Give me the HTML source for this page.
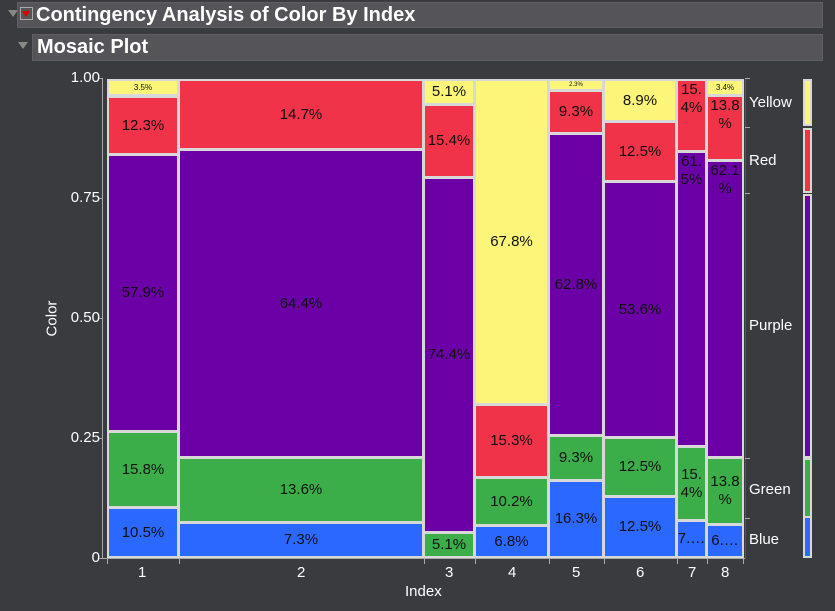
<!DOCTYPE html>
<html><head><meta charset="utf-8"><style>
body{margin:0;width:835px;height:611px;background:#393b3f;font-family:"Liberation Sans",sans-serif;position:relative;overflow:hidden}
div{position:absolute;box-sizing:border-box}
.h{background:#545459;color:#fff;font-weight:bold;border:1px solid #5f5f64}
.s{border:2px solid #d8d8d8;display:flex;align-items:center;justify-content:center;text-align:center;font-size:15px;color:#111;line-height:18px;overflow:hidden}
.B{background:#2a68ff}.G{background:#3bae49}.P{background:#6a00a6}.R{background:#f03348}.Y{background:#fbf679}
.t{color:#fff;font-size:15px}
.yt{color:#fff;font-size:15px;text-align:right;width:40px}
.tk{background:#aaa}
</style></head><body>
<div style="left:8px;top:10px;width:0;height:0;border-left:5px solid transparent;border-right:5px solid transparent;border-top:7px solid #888"></div>
<div class="h" style="left:17px;top:2px;width:806px;height:26px;font-size:20px;padding:1px 0 0 18px">Contingency Analysis of Color By Index</div>
<div style="left:20px;top:7px;width:13px;height:13px;border:1px solid #aaa;background:#555"></div>
<div style="left:22px;top:11px;width:0;height:0;border-left:4.5px solid transparent;border-right:4.5px solid transparent;border-top:6px solid #d00"></div>
<div style="left:18px;top:42px;width:0;height:0;border-left:5px solid transparent;border-right:5px solid transparent;border-top:7px solid #888"></div>
<div class="h" style="left:32px;top:34px;width:791px;height:27px;font-size:20px;padding:1px 0 0 4px">Mosaic Plot</div>

<div class="yt" style="left:60px;top:69px">1.00</div>
<div class="yt" style="left:60px;top:189px">0.75</div>
<div class="yt" style="left:60px;top:309px">0.50</div>
<div class="yt" style="left:60px;top:429px">0.25</div>
<div class="yt" style="left:60px;top:549px">0</div>
<div class="tk" style="left:102px;top:78px;width:1px;height:481px"></div>
<div class="tk" style="left:102px;top:558px;width:643px;height:1px"></div>
<div class="tk" style="left:99px;top:78px;width:4px;height:1px"></div>
<div class="tk" style="left:99px;top:198px;width:4px;height:1px"></div>
<div class="tk" style="left:99px;top:318px;width:4px;height:1px"></div>
<div class="tk" style="left:99px;top:438px;width:4px;height:1px"></div>
<div class="tk" style="left:99px;top:558px;width:4px;height:1px"></div>
<div class="t" style="left:30px;top:310px;transform:rotate(-90deg);width:44px;text-align:center">Color</div>

<div class="s B" style="left:107px;top:507px;width:72px;height:51px">10.5%</div>
<div class="s G" style="left:107px;top:431px;width:72px;height:77px">15.8%</div>
<div class="s P" style="left:107px;top:154px;width:72px;height:278px">57.9%</div>
<div class="s R" style="left:107px;top:96px;width:72px;height:59px">12.3%</div>
<div class="s Y" style="left:107px;top:79px;width:72px;height:17px;font-size:8px">3.5%</div>
<div class="s B" style="left:178px;top:522px;width:246px;height:36px">7.3%</div>
<div class="s G" style="left:178px;top:457px;width:246px;height:66px">13.6%</div>
<div class="s P" style="left:178px;top:149px;width:246px;height:309px">64.4%</div>
<div class="s R" style="left:178px;top:79px;width:246px;height:71px">14.7%</div>
<div class="s G" style="left:423px;top:532px;width:52px;height:26px">5.1%</div>
<div class="s P" style="left:423px;top:177px;width:52px;height:356px">74.4%</div>
<div class="s R" style="left:423px;top:104px;width:52px;height:74px">15.4%</div>
<div class="s Y" style="left:423px;top:79px;width:52px;height:26px">5.1%</div>
<div class="s B" style="left:474px;top:525px;width:75px;height:33px">6.8%</div>
<div class="s G" style="left:474px;top:477px;width:75px;height:49px">10.2%</div>
<div class="s R" style="left:474px;top:404px;width:75px;height:74px">15.3%</div>
<div class="s Y" style="left:474px;top:79px;width:75px;height:326px">67.8%</div>
<div class="s B" style="left:548px;top:480px;width:56px;height:78px">16.3%</div>
<div class="s G" style="left:548px;top:435px;width:56px;height:46px">9.3%</div>
<div class="s P" style="left:548px;top:133px;width:56px;height:303px">62.8%</div>
<div class="s R" style="left:548px;top:90px;width:56px;height:44px">9.3%</div>
<div class="s Y" style="left:548px;top:79px;width:56px;height:12px;font-size:6px">2.3%</div>
<div class="s B" style="left:603px;top:496px;width:74px;height:62px">12.5%</div>
<div class="s G" style="left:603px;top:437px;width:74px;height:60px">12.5%</div>
<div class="s P" style="left:603px;top:181px;width:74px;height:257px">53.6%</div>
<div class="s R" style="left:603px;top:121px;width:74px;height:61px">12.5%</div>
<div class="s Y" style="left:603px;top:79px;width:74px;height:43px">8.9%</div>
<div class="s B" style="left:676px;top:520px;width:31px;height:38px">7.…</div>
<div class="s G" style="left:676px;top:446px;width:31px;height:75px">15.<br>4%</div>
<div class="s P" style="left:676px;top:151px;width:31px;height:296px;align-items:flex-start">61.<br>5%</div>
<div class="s R" style="left:676px;top:79px;width:31px;height:73px;align-items:flex-start">15.<br>4%</div>
<div class="s B" style="left:706px;top:524px;width:38px;height:34px">6.…</div>
<div class="s G" style="left:706px;top:457px;width:38px;height:68px">13.8<br>%</div>
<div class="s P" style="left:706px;top:160px;width:38px;height:298px;align-items:flex-start">62.1<br>%</div>
<div class="s R" style="left:706px;top:95px;width:38px;height:66px;align-items:flex-start">13.8<br>%</div>
<div class="s Y" style="left:706px;top:79px;width:38px;height:17px;font-size:8px">3.4%</div>

<div class="tk" style="left:745px;top:78px;width:1px;height:481px;background:#555"></div>
<div class="tk" style="left:745px;top:78px;width:5px;height:1px"></div>
<div class="tk" style="left:745px;top:127px;width:5px;height:1px"></div>
<div class="tk" style="left:745px;top:193px;width:5px;height:1px"></div>
<div class="tk" style="left:745px;top:458px;width:5px;height:1px"></div>
<div class="tk" style="left:745px;top:518px;width:5px;height:1px"></div>
<div class="t" style="left:749px;top:94px">Yellow</div>
<div class="t" style="left:749px;top:152px">Red</div>
<div class="t" style="left:749px;top:317px">Purple</div>
<div class="t" style="left:749px;top:481px">Green</div>
<div class="t" style="left:749px;top:531px">Blue</div>
<div class="s Y" style="left:803px;top:79px;width:9px;height:47px"></div>
<div class="s R" style="left:803px;top:128px;width:9px;height:65px"></div>
<div class="s P" style="left:803px;top:194px;width:9px;height:264px"></div>
<div class="s G" style="left:803px;top:458px;width:9px;height:60px"></div>
<div class="s B" style="left:803px;top:516px;width:9px;height:42px"></div>

<div class="tk" style="left:107px;top:559px;width:1px;height:5px"></div>
<div class="tk" style="left:179px;top:559px;width:1px;height:5px"></div>
<div class="tk" style="left:424px;top:559px;width:1px;height:5px"></div>
<div class="tk" style="left:475px;top:559px;width:1px;height:5px"></div>
<div class="tk" style="left:549px;top:559px;width:1px;height:5px"></div>
<div class="tk" style="left:604px;top:559px;width:1px;height:5px"></div>
<div class="tk" style="left:677px;top:559px;width:1px;height:5px"></div>
<div class="tk" style="left:707px;top:559px;width:1px;height:5px"></div>
<div class="tk" style="left:743px;top:559px;width:1px;height:5px"></div>
<div class="t" style="left:138px;top:564px">1</div>
<div class="t" style="left:297px;top:564px">2</div>
<div class="t" style="left:445px;top:564px">3</div>
<div class="t" style="left:508px;top:564px">4</div>
<div class="t" style="left:572px;top:564px">5</div>
<div class="t" style="left:636px;top:564px">6</div>
<div class="t" style="left:688px;top:564px">7</div>
<div class="t" style="left:721px;top:564px">8</div>
<div class="t" style="left:405px;top:583px">Index</div>
</body></html>
